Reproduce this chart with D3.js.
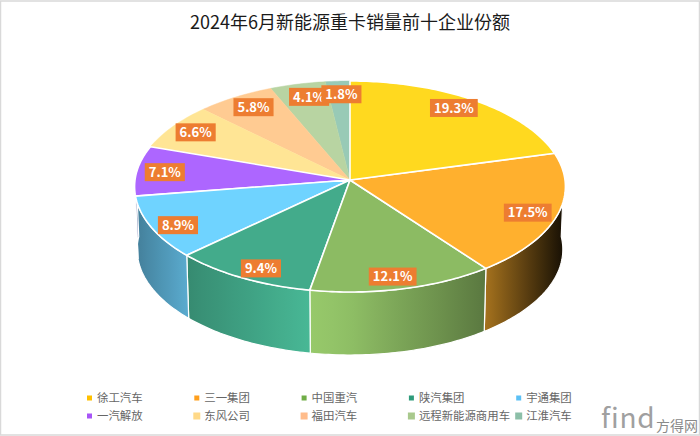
<!DOCTYPE html>
<html>
<head>
<meta charset="utf-8">
<script src="https://cdn.jsdelivr.net/npm/d3@7/dist/d3.min.js"></script>
<style>
  html, body { margin: 0; padding: 0; background: #fff; }
  svg { display: block; }
  text { font-family: "Noto Sans CJK SC", "Noto Sans", sans-serif; }
</style>
</head>
<body>
<div id="chart"></div>
<script>
"use strict"

const titleText = "2024年6月新能源重卡销量前十企业份额";
const companies = ["徐工汽车", "三一集团", "中国重汽", "陕汽集团", "宇通集团", "一汽解放", "东风公司", "福田汽车", "远程新能源商用车", "江淮汽车"];
const shares = [19.3, 17.5, 12.1, 9.4, 8.9, 7.1, 6.6, 5.8, 4.1, 1.8];
const sliceColors = ["#FFD91F", "#FFB02E", "#8CBB63", "#43AB8B", "#6FD3FF", "#AD66FF", "#FFE595", "#FFCB92", "#B8D4A2", "#98CAB6"];
const legendColors = ["#FFC000", "#FF9F1C", "#70AD47", "#2E9B7B", "#5BC0F5", "#A855F7", "#FFD988", "#FFBC8B", "#A9C98D", "#8CBFA8"];

const width = 700;
const height = 436;

const svg = d3.select("#chart").append("svg")
    .attr("width", width)
    .attr("height", height);
const defs = svg.append("defs");

// Frame of the original screenshot
svg.append("rect")
    .attr("x", 0.5).attr("y", 1)
    .attr("width", width - 1).attr("height", height - 2)
    .attr("fill", "#fff")
    .attr("stroke", "#d9d9d9")
    .attr("stroke-width", 1.5);

svg.append("text")
    .attr("x", 350)
    .attr("y", 29)
    .attr("text-anchor", "middle")
    .attr("font-size", 18)
    .attr("fill", "#1a1a1a")
    .text(titleText);

// Perspective projection of the unit circle, the pie centre is not the ellipse centre
const cx = 350, cy = 180, tilt = 0.0616, radX = 215, radY = 105.1, depth = 63;

function project(angle, r, level) {
    const u = Math.sin(angle) * r;
    const v = -Math.cos(angle) * r;
    const w = 1 - tilt * v;
    const shrink = level ? 0.988 : 1;
    return [cx + radX * shrink * u / w, cy + radY * v / w + (level ? depth : 0)];
}

function arcPoints(a0, a1, level) {
    const n = Math.max(2, Math.ceil((a1 - a0) * 60));
    return d3.range(n + 1).map(i => project(a0 + (a1 - a0) * i / n, 1, level));
}

const slices = d3.pie().sort(null).value(d => d)(shares);
const line = d3.line();

// Light on the wall falls off to the right, nearly black at the far edge
const wallLight = d3.scaleLinear()
    .domain([135, 190, 312, 350, 485, 565])
    .range([0.6, 0.82, 1.08, 1.02, 0.65, 0.08]);

function shade(color, k) {
    const c = d3.rgb(color);
    return d3.rgb(Math.min(255, c.r * k), Math.min(255, c.g * k), Math.min(255, c.b * k)).formatHex();
}

const walls = svg.append("g").attr("class", "walls");
const frontStart = Math.PI / 2 - 0.06;
const frontEnd = Math.PI * 1.5 + 0.06;

slices.forEach((d, i) => {
    const a0 = Math.max(d.startAngle, frontStart);
    const a1 = Math.min(d.endAngle, frontEnd);
    if (a1 <= a0) return;
    const top = arcPoints(a0, a1, false);
    const bottom = arcPoints(a0, a1, true).reverse();
    const xs = top.map(p => p[0]);
    const x0 = d3.min(xs), x1 = d3.max(xs);
    const id = "wall" + i;
    const grad = defs.append("linearGradient")
        .attr("id", id)
        .attr("gradientUnits", "userSpaceOnUse")
        .attr("x1", x0).attr("x2", x1)
        .attr("y1", 0).attr("y2", 0);
    d3.range(9).forEach(s => {
        const t = s / 8;
        grad.append("stop")
            .attr("offset", t)
            .attr("stop-color", shade(sliceColors[i], wallLight(x0 + (x1 - x0) * t)));
    });
    // the purple sliver at the far left is only a pale edge in the original
    walls.append("path")
        .attr("d", line(top.concat(bottom)) + "Z")
        .attr("fill", `url(#${id})`)
        .attr("fill-opacity", i == 5 ? 0.35 : 1)
        .attr("stroke", "#fff")
        .attr("stroke-width", 1.2);
});

// Top face, back slices first so the front white edges stay on top
const faces = svg.append("g").attr("class", "faces");
const order = d3.range(slices.length).reverse();
order.forEach(i => {
    const d = slices[i];
    const pts = [[cx, cy]].concat(arcPoints(d.startAngle, d.endAngle, false));
    faces.append("path")
        .attr("d", line(pts) + "Z")
        .attr("fill", sliceColors[i])
        .attr("stroke", i >= 6 ? sliceColors[i] : "#fff")
        .attr("stroke-opacity", i >= 6 ? 0.6 : 1)
        .attr("stroke-width", i >= 6 ? 0.8 : 1.6)
        .attr("stroke-linejoin", "round");
});

// Data labels, nudged off the common radius the way the original has them
const labelRadius = 0.85;
const labelNudge = [[-3, -4], [2, 3], [-2, 5], [2, 6], [-4, 5], [-4, 0], [-3, -2], [2, -2], [4, -1], [2, -1]];
const labels = svg.append("g").attr("class", "labels");
slices.forEach((d, i) => {
    const p = project((d.startAngle + d.endAngle) / 2, labelRadius, false);
    const txt = d3.format(".1f")(d.data) + "%";
    const g = labels.append("g")
        .attr("transform", `translate(${p[0] + labelNudge[i][0]},${p[1] + labelNudge[i][1]})`);
    const rect = g.append("rect").attr("fill", "#ED7D31");
    const t = g.append("text")
        .attr("text-anchor", "middle")
        .attr("y", 4.7)
        .attr("font-family", "'Open Sans', 'Noto Sans', sans-serif")
        .attr("font-weight", 600)
        .attr("font-size", 13)
        .attr("fill", "#fff")
        .text(txt);
    const w = t.node().getComputedTextLength() + 8;
    rect.attr("x", -w / 2).attr("y", -9).attr("width", w).attr("height", 18);
});

// Legend, two rows of five
const legendX = d3.scaleBand().domain(d3.range(5)).range([87, 623.5]);
const legendY = d3.scalePoint().domain([0, 1]).range([398, 416]);
const legend = svg.append("g").attr("class", "legend");
companies.forEach((name, i) => {
    const x = legendX(i % 5), y = legendY(Math.floor(i / 5));
    const size = i > 5 ? 7 : 5;
    legend.append("rect")
        .attr("x", x + (i > 5 ? -1 : 0)).attr("y", y - size / 2)
        .attr("width", size).attr("height", size)
        .attr("fill", legendColors[i]);
    legend.append("text")
        .attr("x", x + 10)
        .attr("y", y + 4)
        .attr("font-size", 11.4)
        .attr("fill", "#666")
        .text(name);
});

// Site watermark
const mark = svg.append("g").attr("class", "watermark");
mark.append("text")
    .attr("x", 601).attr("y", 428)
    .attr("font-family", "'Liberation Sans', sans-serif")
    .attr("font-size", 28)
    .attr("letter-spacing", 0.8)
    .attr("fill", "#a0a0a0")
    .text("find");
mark.append("text")
    .attr("x", 656).attr("y", 431)
    .attr("font-size", 14)
    .attr("fill", "#8a8a8a")
    .text("方得网");
</script>
</body>
</html>
